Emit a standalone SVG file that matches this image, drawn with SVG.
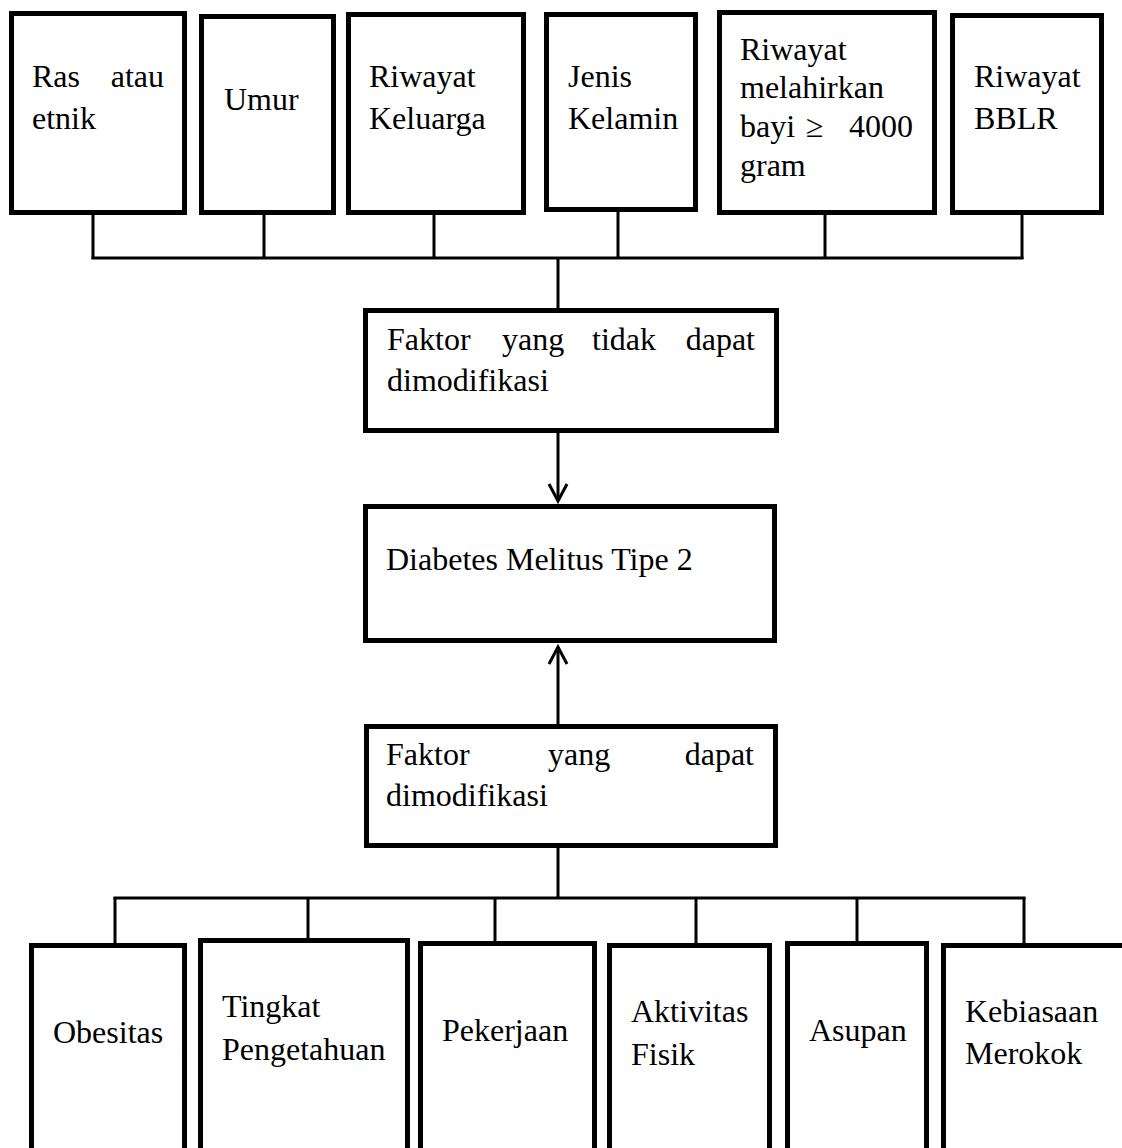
<svg xmlns="http://www.w3.org/2000/svg" width="1122" height="1148" viewBox="0 0 1122 1148">
<style>
.box{fill:#fff;stroke:#000;stroke-width:5;stroke-linejoin:miter}
.t{font-family:"Liberation Serif","Times New Roman",serif;font-size:32px;fill:#000}
.e{text-anchor:end}
.c line,.c polyline{stroke:#000;stroke-width:3;fill:none}
</style>
<rect width="1122" height="1148" fill="#fff"/>
<g class="c" id="connectors">
<line x1="93" y1="214" x2="93" y2="259"/>
<line x1="264" y1="214" x2="264" y2="259"/>
<line x1="434" y1="214" x2="434" y2="259"/>
<line x1="618" y1="211" x2="618" y2="259"/>
<line x1="825" y1="214" x2="825" y2="259"/>
<line x1="1022" y1="214" x2="1022" y2="259"/>
<line x1="91.5" y1="258" x2="1023.5" y2="258"/>
<line x1="558" y1="258" x2="558" y2="310"/>
<line x1="558" y1="432" x2="558" y2="501"/>
<polyline points="549,484 558,501 567,484"/>
<line x1="558" y1="724" x2="558" y2="647"/>
<polyline points="549,664 558,647 567,664"/>
<line x1="558" y1="847" x2="558" y2="899"/>
<line x1="113.5" y1="898" x2="1025.5" y2="898"/>
<line x1="115" y1="897" x2="115" y2="945"/>
<line x1="308" y1="897" x2="308" y2="944"/>
<line x1="495" y1="897" x2="495" y2="943"/>
<line x1="696" y1="897" x2="696" y2="945"/>
<line x1="857" y1="897" x2="857" y2="943"/>
<line x1="1024" y1="897" x2="1024" y2="945"/>
</g>
<g id="ras">
<rect class="box" x="11.5" y="13.5" width="173" height="199"/>
<text class="t" x="32" y="87">Ras</text><text class="t e" x="164" y="87">atau</text>
<text class="t" x="32" y="129">etnik</text>
</g>
<g id="umur">
<rect class="box" x="201.5" y="16.5" width="132" height="196"/>
<text class="t" x="224" y="110">Umur</text>
</g>
<g id="keluarga">
<rect class="box" x="348.5" y="14.5" width="175" height="198"/>
<text class="t" x="369" y="87">Riwayat</text>
<text class="t" x="369" y="129">Keluarga</text>
</g>
<g id="kelamin">
<rect class="box" x="546.5" y="14.5" width="149" height="195"/>
<text class="t" x="568" y="87">Jenis</text>
<text class="t" x="568" y="129">Kelamin</text>
</g>
<g id="melahirkan">
<rect class="box" x="719.5" y="12.5" width="215" height="200"/>
<text class="t" x="740" y="60">Riwayat</text>
<text class="t" x="740" y="98">melahirkan</text>
<text class="t" x="740" y="137">bayi</text><text class="t" x="806" y="137">≥</text><text class="t e" x="913" y="137">4000</text>
<text class="t" x="740" y="176">gram</text>
</g>
<g id="bblr">
<rect class="box" x="952.5" y="15.5" width="149" height="197"/>
<text class="t" x="974" y="87">Riwayat</text>
<text class="t" x="974" y="129">BBLR</text>
</g>
<g id="tidak-dapat">
<rect class="box" x="365.5" y="310.5" width="411" height="120"/>
<text class="t" x="387" y="350">Faktor</text><text class="t" x="502" y="350">yang</text><text class="t" x="592" y="350">tidak</text><text class="t e" x="755" y="350">dapat</text>
<text class="t" x="387" y="391">dimodifikasi</text>
</g>
<g id="dm">
<rect class="box" x="365.5" y="506.5" width="409" height="134"/>
<text class="t" x="386" y="570">Diabetes Melitus Tipe 2</text>
</g>
<g id="dapat">
<rect class="box" x="366.5" y="726.5" width="409" height="119"/>
<text class="t" x="386" y="765">Faktor</text><text class="t" x="548" y="765">yang</text><text class="t e" x="754" y="765">dapat</text>
<text class="t" x="386" y="806">dimodifikasi</text>
</g>
<g id="obesitas">
<rect class="box" x="31.5" y="945.5" width="153" height="222"/>
<text class="t" x="53" y="1043">Obesitas</text>
</g>
<g id="pengetahuan">
<rect class="box" x="200.5" y="940.5" width="207" height="227"/>
<text class="t" x="222" y="1017">Tingkat</text>
<text class="t" x="222" y="1060">Pengetahuan</text>
</g>
<g id="pekerjaan">
<rect class="box" x="420.5" y="943.5" width="174" height="224"/>
<text class="t" x="442" y="1041">Pekerjaan</text>
</g>
<g id="aktivitas">
<rect class="box" x="609.5" y="945.5" width="160" height="222"/>
<text class="t" x="631" y="1022">Aktivitas</text>
<text class="t" x="631" y="1065">Fisik</text>
</g>
<g id="asupan">
<rect class="box" x="787.5" y="943.5" width="139" height="224"/>
<text class="t" x="809" y="1041">Asupan</text>
</g>
<g id="merokok">
<rect class="box" x="943.5" y="945.5" width="190" height="222"/>
<text class="t" x="965" y="1022">Kebiasaan</text>
<text class="t" x="965" y="1064">Merokok</text>
</g>
</svg>
